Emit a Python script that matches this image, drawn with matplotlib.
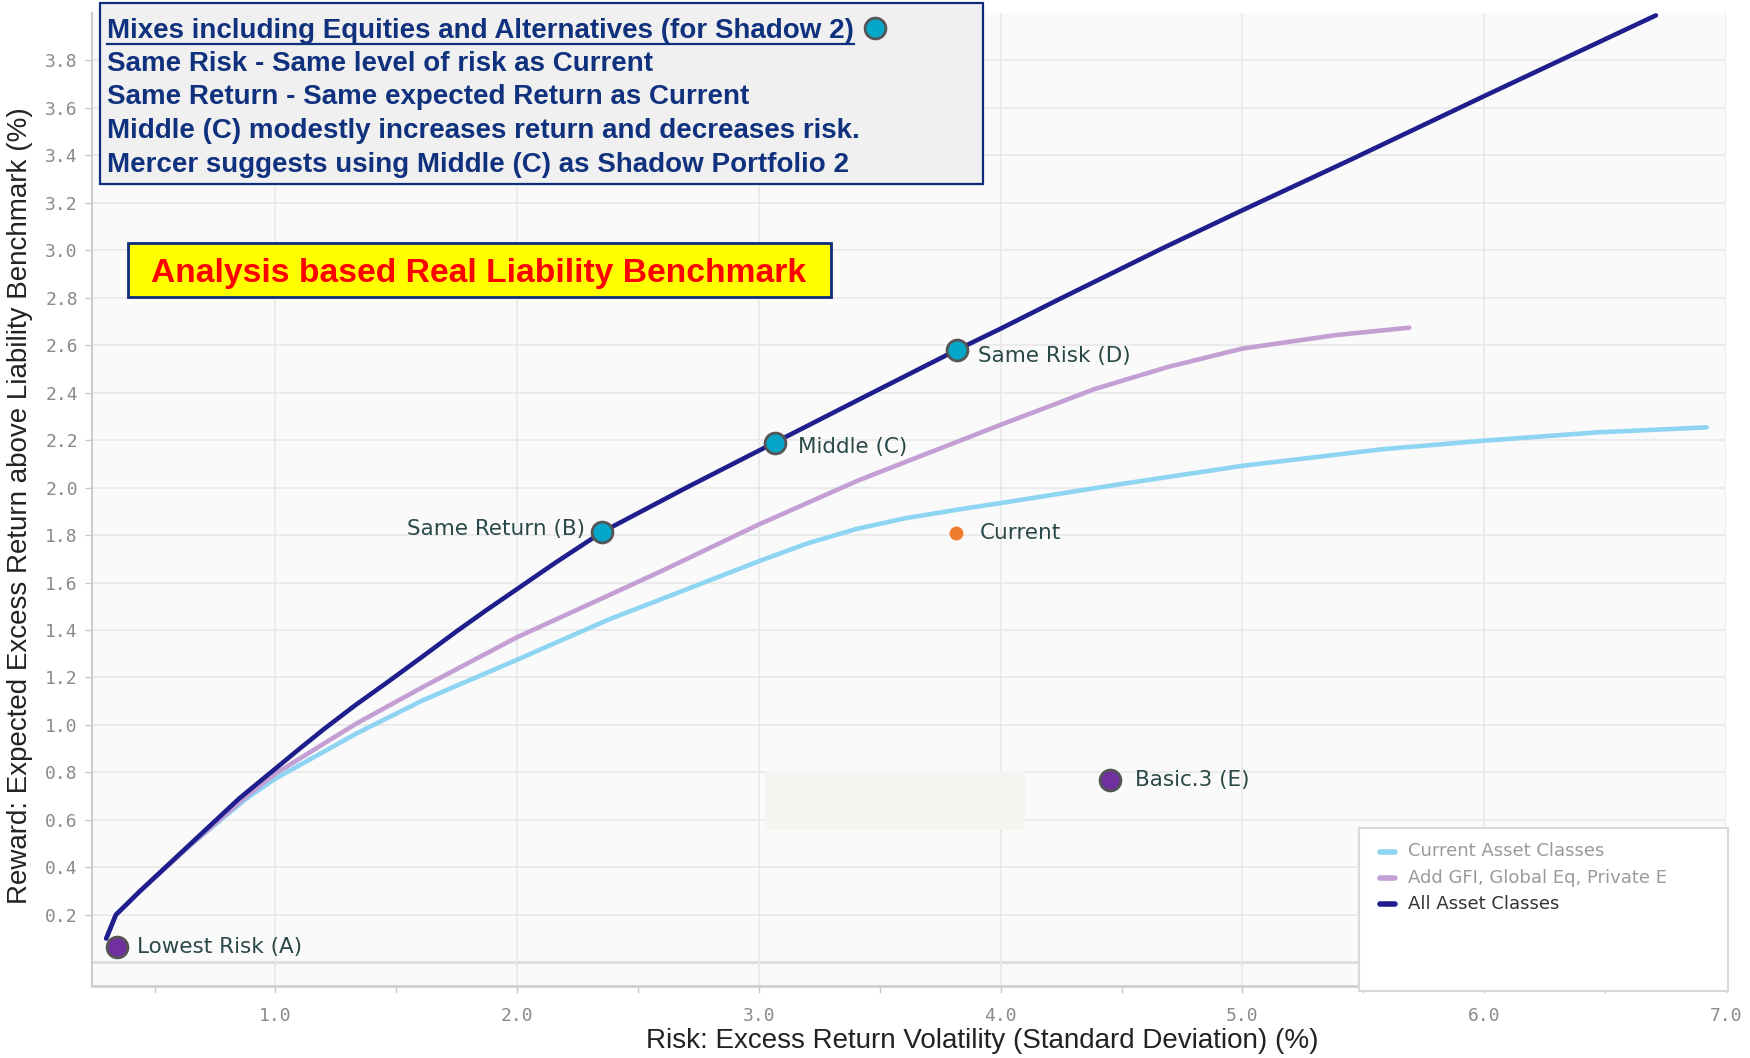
import numpy as np
import matplotlib.pyplot as plt
from matplotlib.patches import Rectangle
from matplotlib.lines import Line2D

W, H = 1750, 1058

# efficient frontier: Current Asset Classes
cur_x = [0.30, 0.34, 0.44, 0.65, 0.88, 1.00, 1.335, 1.61, 2.00, 2.38, 2.52, 3.00,
         3.20, 3.40, 3.60, 3.85, 4.00, 4.49, 5.00, 5.58, 6.00, 6.47, 6.92]
cur_y = [0.10, 0.20, 0.30, 0.495, 0.69, 0.774, 0.964, 1.104, 1.275, 1.445, 1.50, 1.69,
         1.765, 1.825, 1.87, 1.912, 1.935, 2.014, 2.092, 2.162, 2.198, 2.233, 2.254]

# efficient frontier: Add GFI, Global Eq, Private E
gfi_x = [0.30, 0.34, 0.44, 0.65, 0.88, 1.00, 1.335, 1.61, 2.00, 2.38, 2.60, 3.00,
         3.41, 3.99, 4.39, 4.69, 5.00, 5.38, 5.69]
gfi_y = [0.10, 0.20, 0.30, 0.495, 0.70, 0.795, 1.006, 1.16, 1.37, 1.547, 1.65, 1.845,
         2.03, 2.261, 2.416, 2.508, 2.586, 2.642, 2.674]

# efficient frontier: All Asset Classes
all_x = [0.30, 0.34, 0.44, 0.65, 0.85, 1.00, 1.10, 1.20, 1.33, 1.47, 1.60, 1.75, 1.87,
         2.00, 2.16, 2.35, 2.70, 3.065, 3.45, 3.818, 4.00, 4.24, 4.67, 5.00, 5.45,
         6.00, 6.71]
all_y = [0.10, 0.20, 0.30, 0.50, 0.69, 0.816, 0.90, 0.982, 1.083, 1.185, 1.282, 1.395,
         1.482, 1.573, 1.685, 1.812, 2.00, 2.19, 2.39, 2.58, 2.67, 2.793, 3.009, 3.169,
         3.383, 3.65, 3.99]

# named portfolios
pt_names = ["Lowest Risk (A)", "Same Return (B)", "Middle (C)", "Same Risk (D)",
            "Current", "Basic.3 (E)"]
pt_x = [0.343, 2.35, 3.065, 3.818, 3.814, 4.45]
pt_y = [0.063, 1.812, 2.19, 2.58, 1.81, 0.767]
pt_kind = ["purple", "teal", "teal", "teal", "orange", "purple"]

series_names = ["Current Asset Classes", "Add GFI, Global Eq, Private E", "All Asset Classes"]
series_colors = ["#8dd5f2", "#c39fd3", "#1e1e8c"]

note_lines = ["Mixes including Equities and Alternatives (for Shadow 2)",
              "Same Risk - Same level of risk as Current",
              "Same Return - Same expected Return as Current",
              "Middle (C) modestly increases return and decreases risk.",
              "Mercer suggests using Middle (C) as Shadow Portfolio 2"]
banner = "Analysis based Real Liability Benchmark"

x_ticks = [1.0, 2.0, 3.0, 4.0, 5.0, 6.0, 7.0]
y_ticks = [round(0.2 * i, 1) for i in range(1, 20)]

ARIAL = ["Liberation Sans", "DejaVu Sans"]
VERD = ["DejaVu Sans"]
navy = "#10317d"


def fx(p):
    return p / W


def fy(p):
    return 1 - p / H


fig = plt.figure(figsize=(W / 100, H / 100), dpi=100)
ax = fig.add_axes([fx(91.7), fy(986), fx(1726 - 91.7), (986 - 13) / H])
ax.set_facecolor("#fafafa")
ax.set_xlim(0.24, 7.0)
ax.set_ylim(-0.10, 4.0)

ax.set_xticks(x_ticks)
ax.set_xticklabels([f"{v:.1f}" for v in x_ticks])
ax.set_xticks(np.arange(0.5, 7.0, 1.0), minor=True)
ax.set_yticks(y_ticks)
ax.set_yticklabels([f"{v:.1f}" for v in y_ticks])
ax.grid(True, which="major", color="#e9e9e9", lw=1.2)
ax.axhline(0, color="#dcdcdc", lw=2, zorder=0.5)
ax.set_axisbelow(True)
for lab in ax.get_xticklabels() + ax.get_yticklabels():
    lab.set_family("DejaVu Sans Mono")
    lab.set_color("#8a8a8a")
    lab.set_fontsize(13)
ax.tick_params(axis="both", which="both", length=5, color="#c8c8c8", width=1)
ax.tick_params(axis="x", pad=10)
ax.tick_params(axis="y", pad=5)
for s in ["top", "right"]:
    ax.spines[s].set_visible(False)
ax.spines["left"].set_color("#cccccc")
ax.spines["left"].set_linewidth(1.5)
ax.spines["bottom"].set_color("#cfcfcf")
ax.spines["bottom"].set_linewidth(2)

# blank patch in the lower middle of the plot
ax.add_patch(Rectangle((3.023, 0.559), 1.076, 0.247, facecolor="#f5f4f1",
                       edgecolor="none", zorder=1))

for xs, ys, c in zip([cur_x, gfi_x, all_x], [cur_y, gfi_y, all_y], series_colors):
    ax.plot(xs, ys, color=c, lw=3.3, solid_capstyle="round", solid_joinstyle="round",
            zorder=3)

styles = {"teal": dict(ms=15, mfc="#06a6c8", mec="#555555", mew=2),
          "purple": dict(ms=15, mfc="#7030a0", mec="#555555", mew=2),
          "orange": dict(ms=10, mfc="#f07d2e", mec="#f07d2e", mew=0)}
offsets = {"Lowest Risk (A)": (15, 0), "Same Return (B)": (-12, 2), "Middle (C)": (17, -3),
           "Same Risk (D)": (15, -4), "Current": (17, 0), "Basic.3 (E)": (18, 0)}
for name, x, y, k in zip(pt_names, pt_x, pt_y, pt_kind):
    ax.plot([x], [y], "o", zorder=5, **styles[k])
    dx, dy = offsets[name]
    ax.annotate(name, (x, y), xytext=(dx, dy), textcoords="offset points",
                ha="right" if dx < 0 else "left", va="center", fontsize=15.5,
                family=VERD, color="#2b4848", zorder=6)

# axis titles
fig.text(fx(982), fy(1041), "Risk: Excess Return Volatility (Standard Deviation) (%)",
         ha="center", va="center", fontsize=20, family=ARIAL, color="#222222")
fig.text(fx(20), fy(506), "Reward: Expected Excess Return above Liability Benchmark (%)",
         ha="center", va="center", rotation=90, fontsize=20, family=ARIAL, color="#222222")

# notes box at the top left
fig.add_artist(Rectangle((fx(100.4), fy(184)), (983 - 100.4) / W, (184 - 3.3) / H,
                         transform=fig.transFigure, facecolor="#f0f0f0",
                         edgecolor="#0d2c7c", lw=1.6, zorder=4))
note_texts = []
for i, line in enumerate(note_lines):
    t = fig.text(fx(107), fy(30.5 + 33.5 * i), line, ha="left", va="center",
                 fontsize=20, fontweight="bold", family=ARIAL, color=navy, zorder=5)
    note_texts.append(t)

# banner
fig.add_artist(Rectangle((fx(127.6), fy(297.3)), (831 - 127.6) / W, (297.3 - 242.7) / H,
                         transform=fig.transFigure, facecolor="#ffff00",
                         edgecolor="#0d2c7c", lw=2, zorder=4))
fig.text(fx(479), fy(273.5), banner, ha="center", va="center", fontsize=24.2,
         fontweight="bold", family=ARIAL, color="#ff0000", zorder=5)

# legend panel
fig.add_artist(Rectangle((fx(1359), fy(991)), (1728 - 1359) / W, (991 - 828) / H,
                         transform=fig.transFigure, facecolor="white",
                         edgecolor="#d9d9d9", lw=1.5, zorder=4))
leg_text_colors = ["#9a9a9a", "#9a9a9a", "#333333"]
for i, (name, c, tc) in enumerate(zip(series_names, series_colors, leg_text_colors)):
    yy = fy(851.5 + 26.2 * i)
    fig.add_artist(Line2D([fx(1380), fx(1395)], [yy, yy], color=c, lw=4,
                          solid_capstyle="round", transform=fig.transFigure, zorder=5))
    fig.text(fx(1408), yy, name, ha="left", va="center", fontsize=13,
             family=VERD, color=tc, zorder=5)

# underline the first note line and put the teal marker after it
fig.canvas.draw()
bb = note_texts[0].get_window_extent().transformed(fig.transFigure.inverted())
fig.add_artist(Line2D([bb.x0, bb.x1], [fy(43.5), fy(43.5)], color=navy, lw=1.6,
                      transform=fig.transFigure, zorder=5))
fig.add_artist(Line2D([bb.x1 + fx(21)], [fy(28)], marker="o", ms=15, mfc="#06a6c8",
                      mec="#555555", mew=2, transform=fig.transFigure, zorder=5))

fig.savefig("out.png", dpi=100)
